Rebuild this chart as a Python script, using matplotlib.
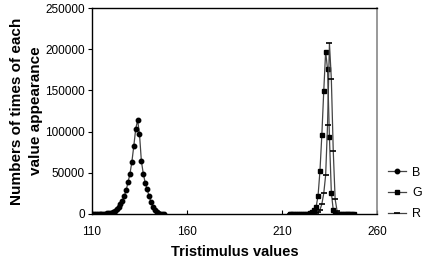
import matplotlib.pyplot as plt
import numpy as np

plt.rcParams['font.family'] = ['Liberation Sans', 'DejaVu Sans']

# tristimulus value histograms
b_x = np.arange(110, 149)
b_counts = [0, 10, 20, 40, 80, 150, 250, 400, 700, 1100,
            1800, 2800, 4000, 6000, 8500, 12000, 16000, 22000, 29000, 39000,
            49000, 63500, 82500, 103000, 114000, 97000, 64000, 49000, 38000, 30000,
            22000, 15000, 9000, 5000, 2500, 1200, 500, 100, 0]

g_x = np.arange(214, 249)
g_counts = [0, 20, 40, 60, 100, 150, 200, 300, 400, 500,
            600, 800, 2000, 4500, 9000, 22000, 52000, 96000, 149000, 197000,
            176000, 93000, 26000, 5000, 1500, 500, 300, 200, 100, 60,
            40, 20, 10, 0, 0]

r_x = np.arange(214, 249)
r_counts = [0, 10, 20, 40, 60, 100, 150, 200, 300, 400,
            500, 700, 900, 1200, 1600, 2000, 5000, 12000, 25000, 47000,
            108000, 207000, 164000, 77000, 18000, 4000, 1000, 500, 300, 200,
            100, 50, 20, 10, 0]

fig = plt.figure(figsize=(4.35, 2.64), dpi=100)
ax = fig.add_axes([0.2115, 0.1894, 0.655, 0.78])

line_col = '#444444'
ax.plot(b_x, b_counts, '-', color=line_col, lw=0.9, marker='o', ms=3.2,
        mfc='black', mec='black', label='B')
ax.plot(g_x, g_counts, '-', color=line_col, lw=0.9, marker='s', ms=3.2,
        mfc='black', mec='black', label='G')
ax.plot(r_x, r_counts, '-', color=line_col, lw=0.9, marker='_', ms=5,
        mew=1.2, mfc='black', mec='black', label='R')

ax.set_xlim(110, 260)
ax.set_ylim(0, 250000)
ax.set_xticks([110, 160, 210, 260])
ax.set_yticks(np.arange(0, 250001, 50000))
ax.tick_params(axis='x', direction='in', length=3, labelsize=8.5, pad=9)
ax.tick_params(axis='y', direction='out', length=3, labelsize=8.5, pad=2)

for s in ['left', 'bottom', 'top']:
    ax.spines[s].set_color('black')
    ax.spines[s].set_linewidth(1.0)
ax.spines['right'].set_color('#888888')
ax.spines['right'].set_linewidth(1.2)

ax.set_xlabel('Tristimulus values', fontsize=10.5, fontweight='bold', labelpad=5)
ax.set_ylabel('Numbers of times of each\nvalue appearance', fontsize=11,
              fontweight='bold', labelpad=2, linespacing=1.45)

ax.legend(loc='center left', bbox_to_anchor=(1.0, 0.1), frameon=False,
          fontsize=9, handlelength=1.4, handletextpad=0.5, labelspacing=0.7)

fig.savefig('out.png', dpi=100)
